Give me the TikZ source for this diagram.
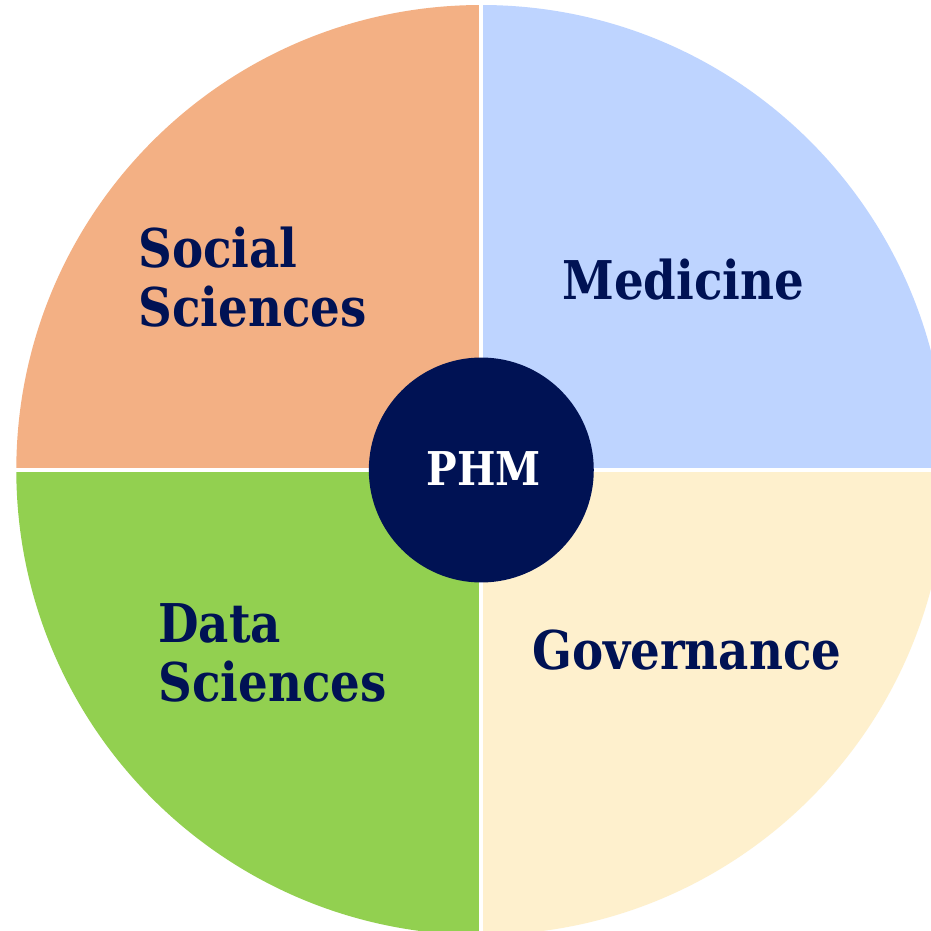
\documentclass[tikz,border=0pt]{standalone}
\usepackage{fontspec}
\setmainfont{DejaVu Serif}[FakeStretch=0.875]
\usetikzlibrary{calc}
\definecolor{phmnavy}{HTML}{001254}
\definecolor{socialfill}{HTML}{F3B084}
\definecolor{medicinefill}{HTML}{BED4FF}
\definecolor{governancefill}{HTML}{FEF0CD}
\definecolor{datafill}{HTML}{92D050}

\begin{document}
\begin{tikzpicture}[x=0.02cm, y=0.02cm,
	field/.style={text=phmnavy, font=\bfseries\fontsize{30.4}{34.1}\selectfont,
	inner sep=0pt, align=left},
	gap/.style={white, line width=0.075cm}]
	\fill [white] (0, 0) rectangle (931, 931);
	\useasboundingbox (0, 0) rectangle (931, 931);
	\clip (0, 0) rectangle (931, 931);

	\coordinate (Centre) at (481.3, 461);
	\fill [socialfill]     (Centre) -- ++(180:465) arc (180:90:465) -- cycle;
	\fill [medicinefill]   (Centre) -- ++(90:465)  arc (90:0:465)   -- cycle;
	\fill [governancefill] (Centre) -- ++(0:465)   arc (0:-90:465)  -- cycle;
	\fill [datafill]       (Centre) -- ++(-90:465) arc (-90:-180:465) -- cycle;
	\draw [gap] ($(Centre) + (-470, 0)$) -- ($(Centre) + (470, 0)$);
	\draw [gap] ($(Centre) + (0, -470)$) -- ($(Centre) + (0, 470)$);

	\node (Social) at (138, 604) [field, anchor=base west] {Social\\Sciences};
	\node (Medicine) at (562, 631) [field, anchor=base west] {Medicine};
	\node (Governance) at (532, 261) [field, anchor=base west] {Governance};
	\node (Data) at (158, 229) [field, anchor=base west] {Data\\Sciences};

	\node (PHM) at (Centre) [circle, fill=phmnavy, minimum size=4.5cm, inner sep=0pt] {};
	\node (PHMtext) at (483.5, 445) [anchor=base, text=white, inner sep=0pt,
	font=\bfseries\fontsize{26.5}{30}\selectfont] {PHM};
\end{tikzpicture}
\end{document}
